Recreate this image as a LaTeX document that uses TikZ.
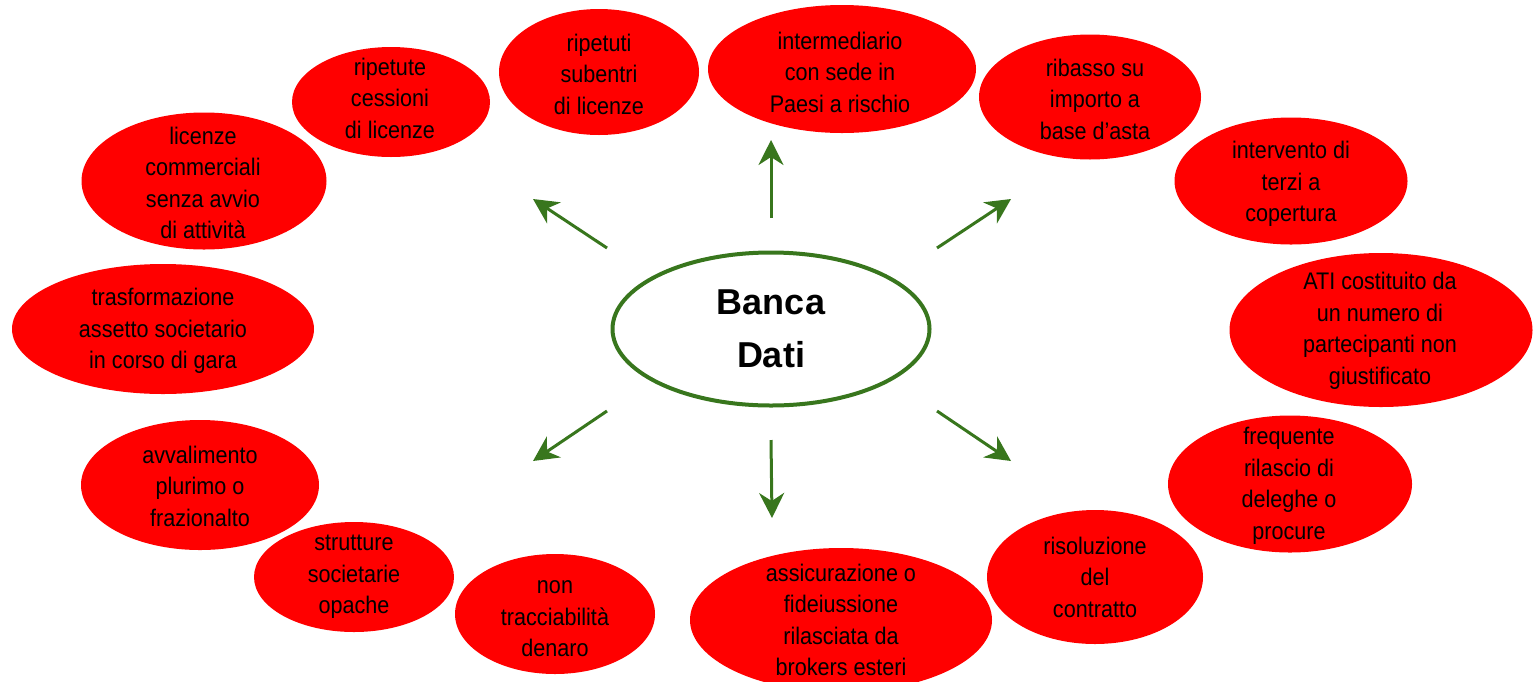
\documentclass[tikz,border=0pt]{standalone}
\usepackage{fontspec}
\setmainfont{Liberation Sans}
\newfontfamily\narrowfont[FakeStretch=0.9]{Liberation Sans}
\usetikzlibrary{shapes.geometric,arrows.meta}
\definecolor{darkgreen}{RGB}{56,118,29}
\begin{document}
\begin{tikzpicture}[x=0.5pt,y=-0.5pt,
  bubble/.style={ellipse, fill=red, draw=none, inner sep=0pt, outer sep=0pt},
  txt/.style={align=center, inner sep=0pt, text=black, font=\narrowfont\fontsize{12}{15.75}\selectfont},
  hub/.style={ellipse, draw=darkgreen, line width=2pt, fill=white, inner sep=0pt,
    minimum width=158.5pt, minimum height=76.5pt, align=center,
    font=\bfseries\fontsize{18}{26.5}\selectfont},
  arr/.style={draw=darkgreen, line width=1.5pt, -{Stealth[length=12.5pt,width=12.5pt,inset=4pt]}}]
\useasboundingbox (0,0) rectangle (1535,681);
% bubbles
\node[bubble, minimum width=99pt, minimum height=55pt] (e1) at (391,102) {};
\node[txt] (t1) at (390,98) {ripetute\\cessioni\\di licenze};
\node[bubble, minimum width=100pt, minimum height=63pt] (e2) at (599,72) {};
\node[txt] (t2) at (599,74) {ripetuti\\subentri\\di licenze};
\node[bubble, minimum width=134pt, minimum height=64pt] (e3) at (842,69) {};
\node[txt] (t3) at (840,72) {intermediario\\con sede in\\Paesi a rischio};
\node[bubble, minimum width=111pt, minimum height=62.5pt] (e4) at (1090,97) {};
\node[txt] (t4) at (1095,99) {ribasso su\\importo a\\base d’asta};
\node[bubble, minimum width=116.5pt, minimum height=63.5pt] (e5) at (1291,181) {};
\node[txt] (t5) at (1291,184) {intervento di\\terzi a\\copertura};
\node[bubble, minimum width=151.5pt, minimum height=77pt] (e6) at (1381,330) {};
\node[txt] (t6) at (1380,331) {ATI costituito da\\un numero di\\partecipanti non\\giustificato};
\node[bubble, minimum width=122pt, minimum height=68.5pt] (e7) at (1290,484) {};
\node[txt] (t7) at (1289,486) {frequente\\rilascio di\\deleghe o\\procure};
\node[bubble, minimum width=108pt, minimum height=67pt] (e8) at (1095,577) {};
\node[txt] (t8) at (1095,577) {risoluzione\\del\\contratto};
\node[bubble, minimum width=151pt, minimum height=72pt] (e9) at (841,620) {};
\node[txt] (t9) at (841,620) {assicurazione o\\fideiussione\\rilasciata da\\brokers esteri};
\node[bubble, minimum width=100pt, minimum height=60pt] (e10) at (555,614) {};
\node[txt] (t10) at (555,619) {non\\tracciabilità\\denaro};
\node[bubble, minimum width=100pt, minimum height=55pt] (e11) at (354,577) {};
\node[txt] (t11) at (354,577) {strutture\\societarie\\opache};
\node[bubble, minimum width=119pt, minimum height=65pt] (e12) at (200,485) {};
\node[txt] (t12) at (200,486) {avvalimento\\plurimo o\\frazionalto};
\node[bubble, minimum width=151pt, minimum height=65pt] (e13) at (163,329) {};
\node[txt] (t13) at (163,331) {trasformazione\\assetto societario\\in corso di gara};
\node[bubble, minimum width=122.5pt, minimum height=68.5pt] (e14) at (204,181) {};
\node[txt] (t14) at (203,183) {licenze\\commerciali\\senza avvio\\di attività};
% hub
\node[hub] (hub) at (771,329) {Banca\\Dati};
% arrows
\coordinate (s1) at (607,248); \coordinate (p1) at (533,199);
\coordinate (s2) at (771,218); \coordinate (p2) at (771,140);
\coordinate (s3) at (937,248); \coordinate (p3) at (1011,199);
\coordinate (s4) at (607,411); \coordinate (p4) at (533,461);
\coordinate (s5) at (771,440); \coordinate (p5) at (772,518);
\coordinate (s6) at (937,411); \coordinate (p6) at (1011,461);
\draw[arr] (s1) -- (p1);
\draw[arr] (s2) -- (p2);
\draw[arr] (s3) -- (p3);
\draw[arr] (s4) -- (p4);
\draw[arr] (s5) -- (p5);
\draw[arr] (s6) -- (p6);
\end{tikzpicture}
\end{document}
